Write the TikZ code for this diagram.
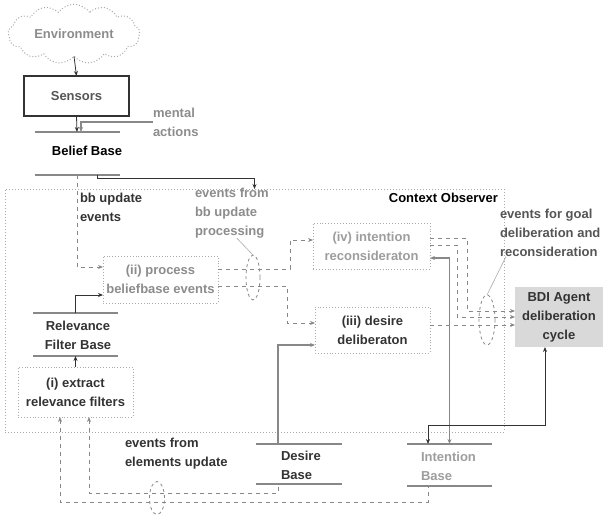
\documentclass[tikz,border=0pt]{standalone}
\usepackage{fontspec}
\setmainfont{Liberation Sans}
\usetikzlibrary{shapes.symbols,shapes.geometric,arrows.meta,calc}
\definecolor{dk}{HTML}{333333}
\definecolor{md}{HTML}{555555}
\definecolor{lt}{HTML}{8C8C8C}
\definecolor{lnc}{HTML}{888888}
\definecolor{bx}{HTML}{AAAAAA}
\definecolor{bdifill}{HTML}{D9D9D9}
\begin{document}
\begin{tikzpicture}[x=1pt,y=-1pt,
  font=\fontsize{13}{19}\selectfont\bfseries,
  every node/.style={inner sep=0pt,outer sep=0pt},
  procbox/.style={draw=bx,dotted,line width=0.9pt,align=center,minimum width=115pt,minimum height=47pt},
  basebox/.style={minimum width=85pt,minimum height=#1},
  baseln/.style={draw=lnc,line width=1.2pt},
  dline/.style={draw=lnc,line width=1pt,dash pattern=on 4pt off 4pt},
  sline/.style={draw=lnc,line width=1.4pt},
  kline/.style={draw=dk,line width=0.8pt},
  tipend/.style={-{Stealth[length=5pt,width=4pt]}},
  tipstart/.style={{Stealth[length=5pt,width=4pt]}-},
  tipboth/.style={{Stealth[length=5pt,width=4pt]}-{Stealth[length=5pt,width=4pt]}},
  eventell/.style={ellipse,draw=lnc,dashed,line width=0.8pt},
  pinln/.style={draw=bx,line width=0.6pt}]
\useasboundingbox (0,0) rectangle (603,519);

% Environment and sensors
\node[cloud,cloud puffs=13,cloud puff arc=110,aspect=2.4,draw=bx,dotted,line width=1pt,
      minimum width=132pt,minimum height=56pt,text=lt] (env) at (74,34) {Environment};
\node[draw=dk,line width=2.5pt,minimum width=105pt,minimum height=40pt,text=md] (sens) at (76.5,96) {Sensors};

% Belief base
\node[basebox=43pt] (bb) at (77,153.5) {};
\node[text=black] (bbt) at (87,151) {Belief Base};
\draw[baseln] (bb.north west) -- (bb.north east);
\draw[baseln] (bb.south west) -- (bb.south east);

\node[text=lt,align=left,anchor=west] (ma) at (153,122) {mental\\actions};

% Context observer
\node[draw=bx,dotted,line width=1pt,minimum width=499pt,minimum height=243pt] (co) at (254.5,310.5) {};
\node[anchor=north east,text=black] (cot) at ([xshift=-6pt,yshift=-4pt]co.north east) {Context Observer};

\node[text=dk,align=left,anchor=north west] (bbu) at (80,193) {bb update\\events};

% process boxes
\node[procbox,text=lt] (proc) at (160.5,279.5) {(ii) process\\beliefbase events};
\node[procbox,minimum width=117pt,minimum height=46pt,text=lt!85] (iv) at (371.5,246) {(iv) intention\\reconsideraton};
\node[procbox,minimum height=46pt,text=dk] (iii) at (372.5,330) {(iii) desire\\deliberaton};
\node[procbox,minimum height=50pt,text=dk] (ext) at (75.5,392) {(i) extract\\relevance filters};

% Relevance filter base
\node[basebox=43pt] (rfb) at (75.5,334.5) {};
\node[text=dk,align=center] (rfbt) at (78,335.5) {Relevance\\Filter Base};
\draw[baseln] (rfb.north west) -- (rfb.north east);
\draw[baseln] (rfb.south west) -- (rfb.south east);

% Desire base
\node[basebox=40pt,minimum width=86pt] (db) at (299,464) {};
\node[text=dk,align=left,anchor=west] (dbt) at (281,465) {Desire\\Base};
\draw[baseln] (db.north west) -- (db.north east);
\draw[baseln] (db.south west) -- (db.south east);

% Intention base
\node[basebox=42pt] (ib) at (449.5,465) {};
\node[text=lt!85,align=left,anchor=west] (ibt) at (421,466) {Intention\\Base};
\draw[baseln] (ib.north west) -- (ib.north east);
\draw[baseln] (ib.south west) -- (ib.south east);

% BDI
\node[fill=bdifill,minimum width=88pt,minimum height=60pt,align=center,text=dk] (bdi) at (559,317) {BDI Agent\\deliberation\\cycle};

% ellipses and labels
\node[eventell,minimum width=14pt,minimum height=45pt] (e1) at (253,277.5) {};
\node[text=lt,align=left,anchor=north west] (lab1) at (195,188) {events from\\bb update\\processing};
\draw[pinln] ([xshift=5pt]lab1.south) -- (e1.north);

\node[eventell,minimum width=16pt,minimum height=50pt] (e2) at (487,320) {};
\node[text=md,align=left,anchor=north west] (lab2) at (500,209) {events for goal\\deliberation and\\reconsideration};
\draw[pinln] ([xshift=6pt]lab2.south west) -- (e2.north);

\node[eventell,minimum width=15pt,minimum height=33pt] (e3) at (157,498) {};
\node[text=dk,align=left,anchor=north west] (lab3) at (125,438) {events from\\elements update};

% connectors
\draw[kline,tipend] (env.south) -- (sens.north);
\draw[kline,tipend] (sens.south) -- (bb.north);
\draw[sline,tipend] (ma.west) -| ([xshift=4pt]bb.north);
\draw[dline,tipend] (bb.south) |- ([yshift=12.5pt]proc.west);
\draw[kline,tipend] ([xshift=20pt]bb.south) -- ++(0,3) -| (co.north);
\draw[kline,tipend] (rfb.north) |- ([yshift=-15.5pt]proc.west);
\draw[kline,tipend] (ext.north) -- (rfb.south);

\draw[dline,tipend] ([yshift=10.5pt]proc.east) -- ++(72,0) |- ([yshift=6pt]iv.west);
\draw[dline,tipend] ([yshift=-6.5pt]proc.east) -- ++(69,0) |- ([yshift=7pt]iii.west);

\draw[dline,tipend] ([yshift=8pt]iv.east) -- ++(37,0) |- ([yshift=6pt]bdi.west);
\draw[dline,tipend] ([yshift=1pt]iv.east) -- ++(27,0) |- (bdi.west);
\draw[dline,tipend] ([yshift=5pt]iii.east) -- ([yshift=5pt]iii.east -| bdi.west);

\draw[sline,tipboth] (ib.north) |- ([yshift=-12pt]iv.east);
\draw[kline,tipboth] ([xshift=-14pt]bdi.south) -- ++(0,78) -| ([xshift=-21.5pt]ib.north);
\draw[sline,tipend] ([xshift=-21pt]db.north) |- ([yshift=-15pt]iii.west);

\draw[dline,tipstart] ([xshift=13.5pt]ext.south) |- ($([xshift=-21pt]db.south)+(0,9)$) -- ([xshift=-21pt]db.south);
\draw[dline,tipstart] ([xshift=-15.5pt]ext.south) |- ($([xshift=-21.5pt]ib.south)+(0,16)$) -- ([xshift=-21.5pt]ib.south);
\end{tikzpicture}
\end{document}
